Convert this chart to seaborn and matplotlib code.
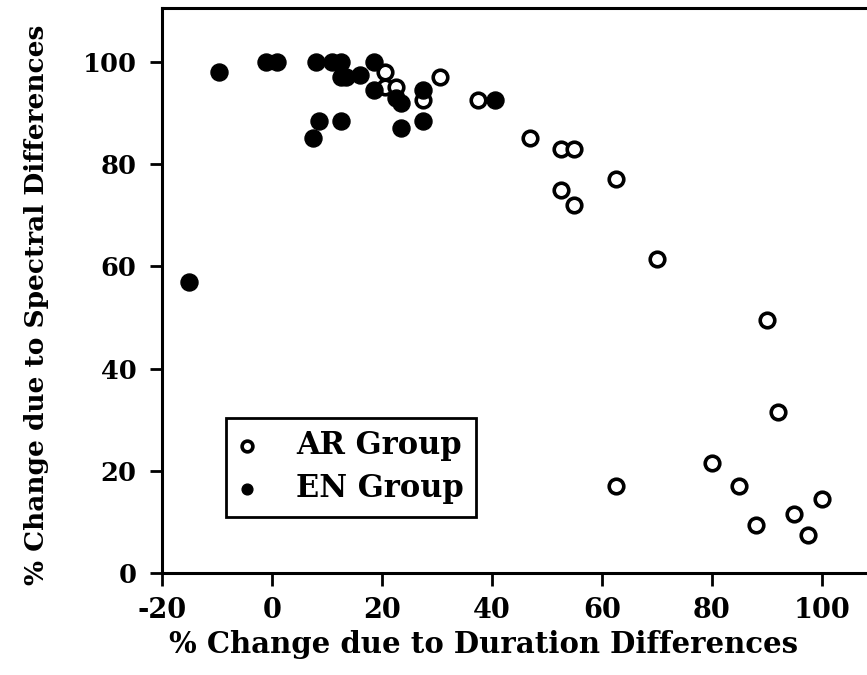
import matplotlib
matplotlib.use("Agg")
import matplotlib.pyplot as plt
import seaborn as sns
import pandas as pd

# AR Group (open circles)
ar_x = [20.5, 20.5, 22.5, 27.5, 30.5, 37.5, 47, 52.5, 55, 52.5, 55, 62.5,
        70, 90, 92, 80, 62.5, 85, 100, 95, 88, 97.5]
ar_y = [98, 95, 95, 92.5, 97, 92.5, 85, 83, 83, 75, 72, 77,
        61.5, 49.5, 31.5, 21.5, 17, 17, 14.5, 11.5, 9.5, 7.5]

# EN Group (filled circles)
en_x = [-15, -9.5, -1, 1, 8, 11, 12.5, 12.5, 13.5, 16, 18.5, 18.5,
        22.5, 23.5, 23.5, 27.5, 27.5, 8.5, 12.5, 7.5, 40.5]
en_y = [57, 98, 100, 100, 100, 100, 100, 97, 97, 97.5, 100, 94.5,
        93, 92, 87, 94.5, 88.5, 88.5, 88.5, 85, 92.5]

x_ticks = [-20, 0, 20, 40, 60, 80, 100]
y_ticks = [0, 20, 40, 60, 80, 100]

sns.set_theme(style="white")
plt.rcParams['font.family'] = ['DejaVu Serif']
plt.rcParams['font.weight'] = 'bold'
plt.rcParams['text.color'] = 'black'
plt.rcParams['axes.labelcolor'] = 'black'
plt.rcParams['xtick.color'] = 'black'
plt.rcParams['ytick.color'] = 'black'

df_ar = pd.DataFrame({"x": ar_x, "y": ar_y})
df_en = pd.DataFrame({"x": en_x, "y": en_y})

fig = plt.figure(figsize=(8.67, 6.75), dpi=100)
ax = fig.add_axes([0.1865, 0.151, 0.825, 0.837])

sns.scatterplot(data=df_ar, x="x", y="y", ax=ax, s=110, marker="o",
                facecolor="white", edgecolor="black", linewidth=2.6,
                label="AR Group", zorder=3)
sns.scatterplot(data=df_en, x="x", y="y", ax=ax, s=150, marker="o",
                color="black", edgecolor="black", linewidth=1,
                label="EN Group", zorder=3)

ax.set_xlim(-20, 110)
ax.set_ylim(0, 110.5)
ax.set_xticks(x_ticks)
ax.set_yticks(y_ticks)
ax.set_xticklabels([str(v) for v in x_ticks], fontsize=19.5, fontweight='bold')
ax.set_yticklabels([str(v) for v in y_ticks], fontsize=18.5, fontweight='bold')
ax.tick_params(axis='both', direction='out', length=9, width=2, color='black',
               bottom=True, left=True, labelcolor='black')
ax.tick_params(axis='y', pad=9)
ax.tick_params(axis='x', pad=8)
for sp in ax.spines.values():
    sp.set_linewidth(2.2)
    sp.set_color('black')

ax.set_xlabel("% Change due to Duration Differences", fontsize=21,
              fontweight='bold', color='black')
ax.set_ylabel("% Change due to Spectral Differences", fontsize=19,
              fontweight='bold', color='black')
ax.xaxis.set_label_coords(0.45, -0.101)
ax.yaxis.set_label_coords(-0.157, 0.474)

leg = ax.legend(loc='lower left', bbox_to_anchor=(0.09, 0.1), fontsize=22,
                frameon=True, fancybox=False, edgecolor='black', framealpha=1,
                borderpad=0.4, handletextpad=1.3, labelspacing=0.4,
                handlelength=0.6, borderaxespad=0)
leg.get_frame().set_linewidth(2)
leg.get_frame().set_edgecolor('black')
for t in leg.get_texts():
    t.set_fontweight('bold')
    t.set_color('black')
for h in leg.legend_handles:
    h.set_sizes([60])

fig.savefig("out.png", dpi=100)
